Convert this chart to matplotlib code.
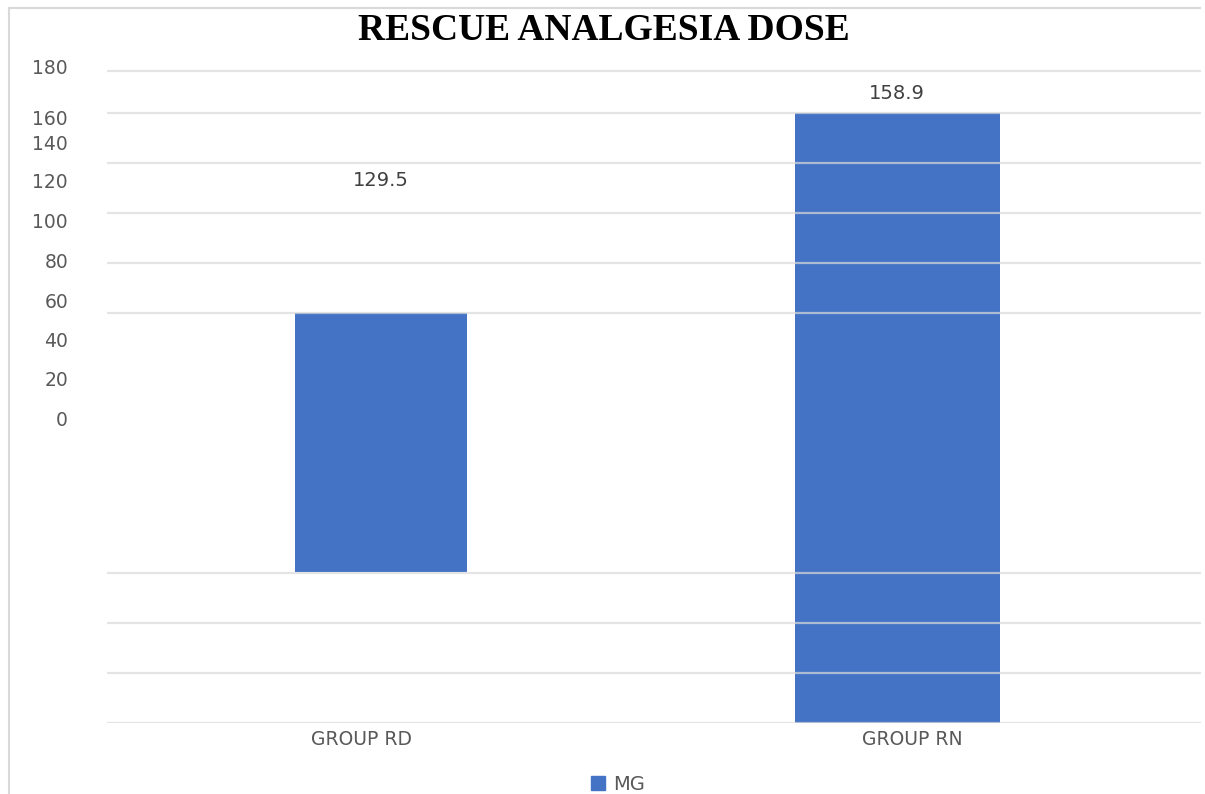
import matplotlib
matplotlib.use("Agg")
import matplotlib.pyplot as plt
from matplotlib.patches import Rectangle
from matplotlib.lines import Line2D

# ---- data ----
title = "RESCUE ANALGESIA DOSE"
categories = ["GROUP RD", "GROUP RN"]
values = [129.5, 158.9]                 # printed data labels
bar_bottoms = [39.4, 0.0]               # visible bar extents (distorted source)
bar_tops = [106.8, 158.9]
bar_centers = [0.036, 0.972]
bar_widths = [0.312, 0.372]
label_heights = [141.4, 164.1]          # where the value labels sit
ytick_labels = ["180", "160", "140", "120", "100", "80", "60", "40", "20", "0"]
ytick_pos = [170.9, 157.8, 151.3, 141.2, 130.8, 120.4, 110.0, 99.8, 89.7, 79.3]
grid_levels = [0.0, 13.0, 26.0, 39.1, 106.8, 119.8, 132.8, 145.9, 158.9, 169.8]
series_name = "MG"

W, H = 1205, 794
fig = plt.figure(figsize=(W / 100, H / 100), dpi=100)
fig.patch.set_facecolor("white")

# chart border (top and left visible)
fig.add_artist(Line2D([9 / W, 1200 / W], [1 - 8 / H, 1 - 8 / H], transform=fig.transFigure,
                      color="#d9d9d9", lw=1.5))
fig.add_artist(Line2D([9 / W, 9 / W], [0, 1 - 8 / H], transform=fig.transFigure,
                      color="#d9d9d9", lw=1.5))

left, right, bottom_px, top_px = 107, 1201, 723, 55
ax = fig.add_axes([left / W, 1 - bottom_px / H, (right - left) / W, (bottom_px - top_px) / H])
ax.set_facecolor("none")
px_per_unit = (723 - 113) / 158.9
ax.set_ylim(0, (bottom_px - top_px) / px_per_unit)
ax.set_xlim(-0.461, 1.523)

blue = "#4472C4"
ax.bar(bar_centers, [t - b for t, b in zip(bar_tops, bar_bottoms)], bottom=bar_bottoms,
       width=bar_widths, color=blue, zorder=2, label=series_name)

for g in grid_levels:
    ax.axhline(g, color="#d9d9d9", lw=1.6, alpha=0.7, zorder=3)

for xc, v, h in zip(bar_centers, values, label_heights):
    ax.text(xc, h, f"{v:.1f}", ha="center", va="center", fontsize=14,
            color="#404040", family="DejaVu Sans")

for s in ax.spines.values():
    s.set_visible(False)

ax.set_yticks(ytick_pos, ytick_labels)
ax.tick_params(axis="y", length=0, pad=28, labelsize=13.5, labelcolor="#595959")
ax.set_xticks([0, 1], categories)
ax.tick_params(axis="x", length=0, pad=5, labelsize=13.5, labelcolor="#595959")

fig.text(604 / W, 1 - 31 / H, title, ha="center", va="center", fontsize=27,
         fontweight="bold", family="Liberation Serif", color="black")

handles = [Rectangle((0, 0), 1, 1, color=blue)]
fig.legend(handles, [series_name], loc="center", bbox_to_anchor=(618 / W, 1 - 784 / H),
           frameon=False, fontsize=14, handlelength=0.7, handleheight=0.7,
           handletextpad=0.4, labelcolor="#595959")

fig.savefig("out.png", dpi=100, facecolor="white")
